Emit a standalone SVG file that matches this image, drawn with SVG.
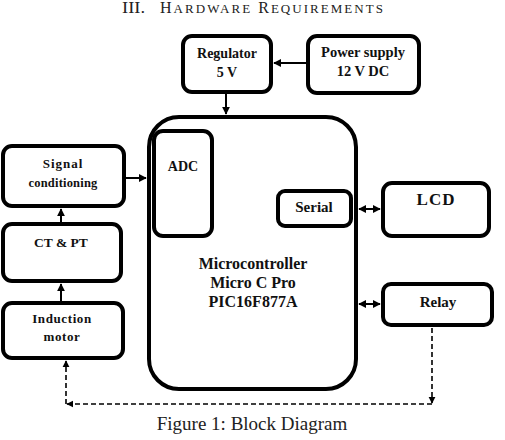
<svg xmlns="http://www.w3.org/2000/svg" width="505" height="440" viewBox="0 0 505 440">
<defs>
<style>
.box{fill:#fff;stroke:#000;stroke-width:4}
.t{font-family:"Liberation Serif","Times New Roman",serif;font-weight:bold;fill:#111;text-anchor:middle}
.ln{stroke:#000;stroke-width:2;fill:none}
.dash{stroke:#000;stroke-width:1.6;fill:none;stroke-dasharray:5 3}
.hd{font-family:"Liberation Serif","Times New Roman",serif;fill:#222}
</style>
<marker id="ah" viewBox="0 0 10 10" refX="9" refY="5" markerWidth="4" markerHeight="4" orient="auto-start-reverse" markerUnits="strokeWidth">
<path d="M0,0 L10,5 L0,10 z" fill="#000"/>
</marker>
<marker id="ahd" viewBox="0 0 10 10" refX="9" refY="5" markerWidth="4.5" markerHeight="4.5" orient="auto" markerUnits="strokeWidth">
<path d="M0,0 L10,5 L0,10 z" fill="#000"/>
</marker>
</defs>
<rect width="505" height="440" fill="#fff"/>

<text class="hd" x="122" y="13" font-size="16" textLength="23" lengthAdjust="spacingAndGlyphs">III.</text>
<text class="hd" x="160" y="13" font-size="16" textLength="223" lengthAdjust="spacing">H<tspan font-size="13">ARDWARE</tspan> R<tspan font-size="13">EQUIREMENTS</tspan></text>

<g id="connectors">
<line class="ln" x1="306" y1="63" x2="274" y2="63" marker-end="url(#ah)"/>
<line class="ln" x1="226" y1="94" x2="226" y2="114" marker-end="url(#ah)"/>
<line class="ln" x1="126" y1="178" x2="146" y2="178" marker-end="url(#ah)"/>
<line class="ln" x1="61" y1="222" x2="61" y2="209" marker-end="url(#ah)"/>
<line class="ln" x1="61" y1="301" x2="61" y2="284" marker-end="url(#ah)"/>
<line class="ln" x1="359" y1="209" x2="380" y2="209" marker-start="url(#ah)" marker-end="url(#ah)"/>
<line class="ln" x1="359" y1="304" x2="380" y2="304" marker-start="url(#ah)" marker-end="url(#ah)"/>
<line class="dash" x1="432" y1="328" x2="432" y2="403" marker-end="url(#ahd)"/>
<line class="dash" x1="432" y1="404" x2="67" y2="404" marker-end="url(#ahd)"/>
<line class="dash" x1="66" y1="404" x2="66" y2="361" marker-end="url(#ahd)"/>
</g>

<g id="regulator">
<rect class="box" x="183" y="36" width="88" height="56" rx="9"/>
<text class="t" x="227" y="58" font-size="14">Regulator</text>
<text class="t" x="227" y="77" font-size="14">5 V</text>
</g>

<g id="power-supply">
<rect class="box" x="308" y="36" width="111" height="57" rx="9"/>
<text class="t" x="363" y="57" font-size="14.5">Power supply</text>
<text class="t" x="363" y="76" font-size="14.5">12 V DC</text>
</g>

<g id="microcontroller">
<rect class="box" x="149" y="117" width="207" height="272" rx="30"/>
<text class="t" x="253" y="269" font-size="16">Microcontroller</text>
<text class="t" x="253" y="288" font-size="16">Micro  C Pro</text>
<text class="t" x="253" y="307" font-size="16">PIC16F877A</text>
</g>

<g id="adc">
<rect class="box" x="154" y="131" width="58" height="105" rx="9"/>
<text class="t" x="183" y="171" font-size="14">ADC</text>
</g>

<g id="serial">
<rect class="box" x="278" y="191" width="73" height="35" rx="7"/>
<text class="t" x="314" y="212" font-size="15">Serial</text>
</g>

<g id="lcd">
<rect class="box" x="383" y="183" width="106" height="53" rx="9"/>
<text class="t" x="436" y="205" font-size="17" letter-spacing="1">LCD</text>
</g>

<g id="relay">
<rect class="box" x="383" y="284" width="109" height="41" rx="8"/>
<text class="t" x="438" y="307" font-size="15">Relay</text>
</g>

<g id="signal-conditioning">
<rect class="box" x="3" y="146" width="121" height="60" rx="9"/>
<text class="t" x="63" y="168" font-size="13" letter-spacing="1">Signal</text>
<text class="t" x="63" y="187" font-size="12.5" letter-spacing="0.2">conditioning</text>
</g>

<g id="ct-pt">
<rect class="box" x="3" y="224" width="118" height="57" rx="9"/>
<text class="t" x="61" y="247" font-size="13.5">CT &amp; PT</text>
</g>

<g id="induction-motor">
<rect class="box" x="3" y="303" width="120" height="55" rx="9"/>
<text class="t" x="62" y="323" font-size="13" letter-spacing="0.6">Induction</text>
<text class="t" x="62" y="341" font-size="13" letter-spacing="0.6">motor</text>
</g>

<text x="252" y="430" font-family="&quot;Liberation Serif&quot;,&quot;Times New Roman&quot;,serif" font-size="19" fill="#222" text-anchor="middle">Figure 1: Block Diagram</text>
</svg>
